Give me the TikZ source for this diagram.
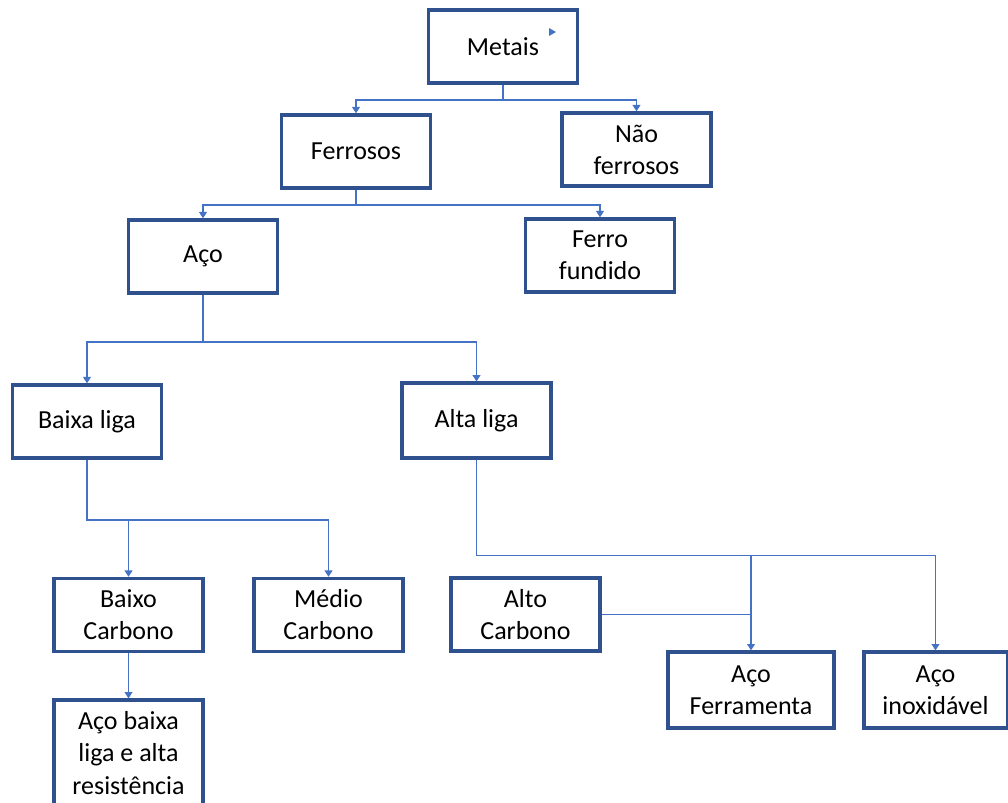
\documentclass[tikz,border=0pt]{standalone}
\usepackage{fontspec}
\setmainfont{Carlito}
\usepackage{xcolor}
\usetikzlibrary{positioning,arrows.meta}
\definecolor{boxblue}{HTML}{2F528F}
\definecolor{linkblue}{HTML}{4472C4}

\begin{document}
\begin{tikzpicture}[x=0.025cm,y=-0.025cm,>={Triangle[length=4.5pt,width=5.5pt]},
  caixa/.style={draw=boxblue,line width=2.3pt,minimum width=3.72cm,minimum height=1.83cm,
    align=center,inner sep=1pt,font=\fontsize{18.5}{22.8}\selectfont},
  liga/.style={draw=linkblue,line width=1.2pt}]
\useasboundingbox (0,0) rectangle (1008,803);
\node[caixa] (met) at (503,46.5) {Metais};
\node[caixa] (fer) at (356,151.5) {Ferrosos};
\node[caixa] (nfer) at (636.5,149.5) {Não\\ferrosos};
\node[caixa] (aco) at (203,256.5) {Aço};
\node[caixa] (ffu) at (600,255.5) {Ferro\\fundido};
\node[caixa] (bl) at (87,421.5) {Baixa liga};
\node[caixa,minimum height=1.87cm] (al) at (476.5,420.5) {Alta liga};
\node[caixa] (bc) at (128.5,615) {Baixo\\Carbono};
\node[caixa] (mc) at (328.5,615) {Médio\\Carbono};
\node[caixa] (ac) at (525.5,614.5) {Alto\\Carbono};
\node[caixa,minimum width=4.15cm,minimum height=1.9cm] (af) at (751,690) {Aço\\Ferramenta};
\node[caixa,minimum width=3.58cm,minimum height=1.9cm] (ai) at (935.5,690) {Aço\\inoxidável};
\node[caixa,minimum height=2.65cm] (abl) at (128.5,753) {Aço baixa\\liga e alta\\resistência};
\fill[linkblue] (549,28) -- (556,32) -- (549,36) -- cycle;
\draw[liga,->] (met.south) -- ++(0,15) -| (fer.north);
\draw[liga,->] (met.south) -- ++(0,15) -| (nfer.north);
\draw[liga,->] (fer.south) -- ++(0,15) -| (aco.north);
\draw[liga,->] (fer.south) -- ++(0,15) -| (ffu.north);
\draw[liga,->] (aco.south) -- ++(0,47) -| (bl.north);
\draw[liga,->] (aco.south) -- ++(0,47) -| (al.north);
\draw[liga,->] (bl.south) -- ++(0,60) -| (bc.north);
\draw[liga,->] (bl.south) -- ++(0,60) -| (mc.north);
\draw[liga,->] (al.south) -- ++(0,96) -| (af.north);
\draw[liga,->] (al.south) -- ++(0,96) -| (ai.north);
\draw[liga] (ac.east) -- (ac.east -| af.north);
\draw[liga,->] (bc.south) -- (abl.north);
\end{tikzpicture}
\end{document}
